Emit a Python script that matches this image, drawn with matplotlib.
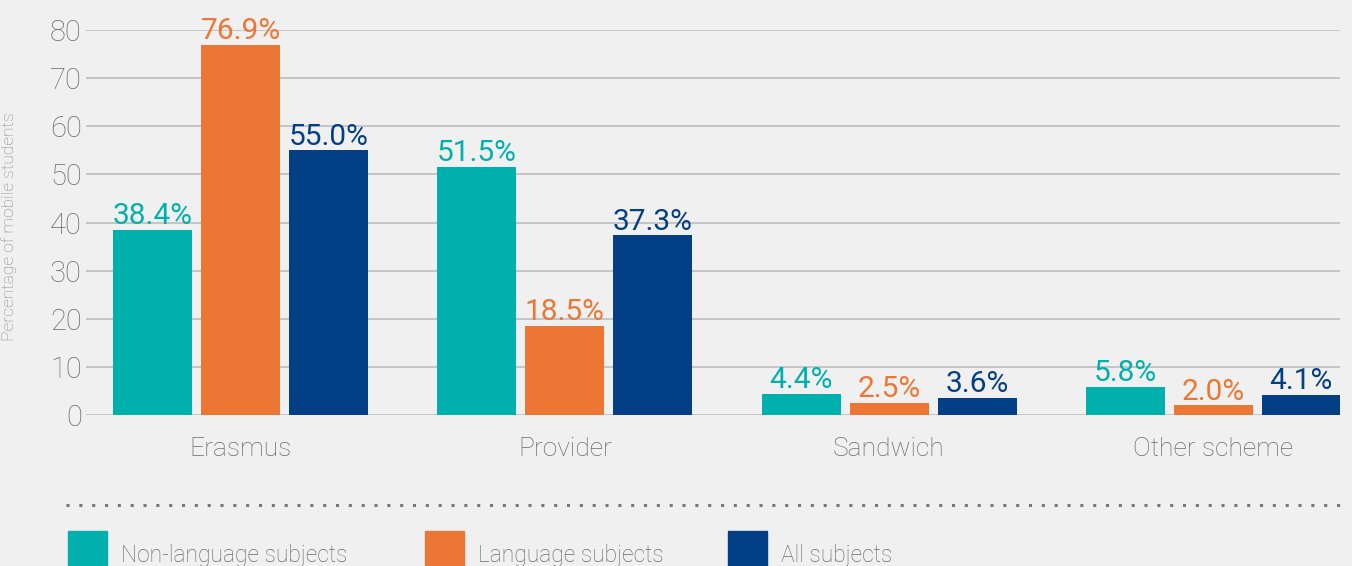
import matplotlib
matplotlib.use("Agg")
import matplotlib.pyplot as plt
from matplotlib.patches import Rectangle
from matplotlib.lines import Line2D
import numpy as np

categories = ["Erasmus", "Provider", "Sandwich", "Other scheme"]
series_names = ["Non-language subjects", "Language subjects", "All subjects"]
non_language = [38.4, 51.5, 4.4, 5.8]
language = [76.9, 18.5, 2.5, 2.0]
all_subjects = [55.0, 37.3, 3.6, 4.1]
yticks = [0, 10, 20, 30, 40, 50, 60, 70, 80]

colors = ["#00b0ad", "#ec7634", "#033f85"]
bg = "#f0f0f0"
grey = "#6b6b6b"

plt.rcParams['font.family'] = ['Roboto', 'DejaVu Sans']

fig = plt.figure(figsize=(13.52, 5.66), dpi=100, facecolor=bg)
ax = fig.add_axes([86/1352, 1-415/566, (1340-86)/1352, (415-30)/566])
ax.set_facecolor(bg)

x = np.arange(len(categories))
width = 0.2437
offset = 0.2714
for i, (vals, c) in enumerate(zip([non_language, language, all_subjects], colors)):
    pos = x + (i - 1) * offset
    bars = ax.bar(pos, vals, width=width, color=c, zorder=3)
    for b, v in zip(bars, vals):
        ax.text(b.get_x() + b.get_width()/2, v + 1.2, f"{v:.1f}%", ha="center", va="baseline",
                color=c, fontsize=21.5, fontweight="normal", clip_on=False, zorder=4)

ax.set_xlim(-0.477, 3.391)
ax.set_ylim(0, 80)
ax.set_yticks(yticks)
ax.set_yticklabels([str(t) for t in yticks], fontsize=21, color=grey, fontweight="light")
ax.set_xticks(x)
ax.set_xticklabels(categories, fontsize=19, color=grey, fontweight="light")
ax.tick_params(axis="both", length=0)
ax.tick_params(axis="y", pad=3)
ax.tick_params(axis="x", pad=16)
ax.grid(axis="y", color="#bdbdbd", linewidth=1.2, zorder=0)
for s in ax.spines.values():
    s.set_visible(False)
ax.set_ylabel("Percentage of mobile students", fontsize=12.5, color="#8a8a8a",
              fontweight="light")
ax.yaxis.set_label_coords(-0.055, 0.49)

# dotted separator
fig.add_artist(Line2D([66/1352, 1340/1352], [1-505/566, 1-505/566], color="#777777",
                      linestyle=(0, (1, 3.2)), linewidth=2.2, transform=fig.transFigure))

# legend
leg_x = [68, 425, 728]
for lx, name, c in zip(leg_x, series_names, colors):
    fig.add_artist(Rectangle((lx/1352, 0), 39/1352, (566-531)/566, color=c,
                             transform=fig.transFigure))
    fig.text((lx + 53)/1352, 1-562/566, name, fontsize=16.4, color=grey, fontweight="light",
             va="baseline", ha="left")

fig.savefig("out.png", dpi=100, facecolor=bg)
